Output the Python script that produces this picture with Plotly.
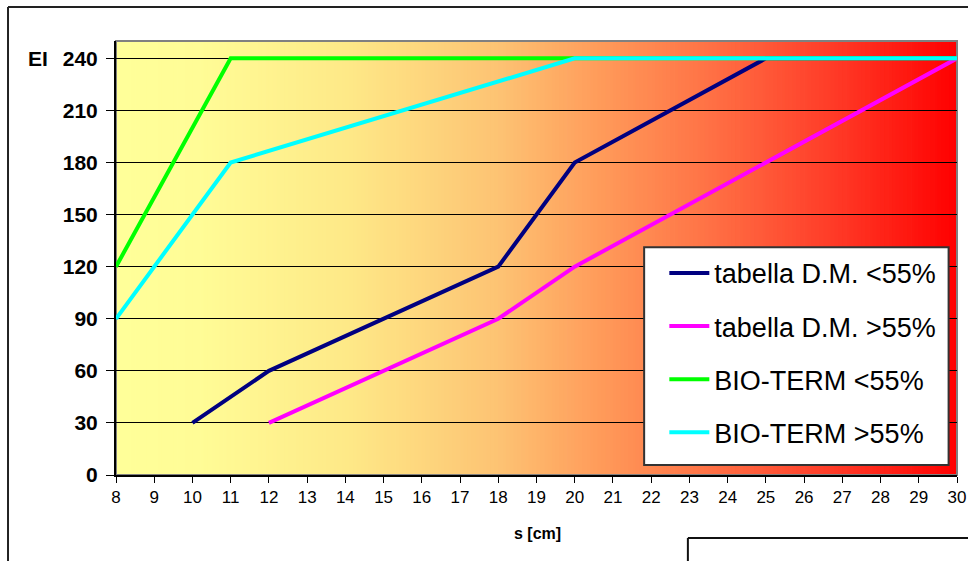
import numpy as np
import plotly.graph_objects as go

# Spessore s [cm] and EI values for each curve
dm_lt_x = [10, 12, 18, 20, 25, 30]
dm_lt_y = [30, 60, 120, 180, 240, 240]

dm_gt_x = [12, 18, 20, 30]
dm_gt_y = [30, 90, 120, 240]

bio_lt_x = [8, 11, 20, 30]
bio_lt_y = [120, 240, 240, 240]

bio_gt_x = [8, 11, 20, 30]
bio_gt_y = [90, 180, 240, 240]

y_ticks = [0, 30, 60, 90, 120, 150, 180, 210, 240]
x_ticks = list(range(8, 31))

series = [
    ("tabella D.M. <55%", dm_lt_x, dm_lt_y, "#000080"),
    ("tabella D.M. >55%", dm_gt_x, dm_gt_y, "#FF00FF"),
    ("BIO-TERM <55%", bio_lt_x, bio_lt_y, "#00FF00"),
    ("BIO-TERM >55%", bio_gt_x, bio_gt_y, "#00FFFF"),
]

fig = go.Figure()
for i, (name, xs, ys, col) in enumerate(series):
    fig.add_trace(go.Scatter(
        x=xs, y=ys, mode="lines", name=name,
        line=dict(color=col, width=4),
        legendgroup=f"g{i}",
    ))

# Horizontal background gradient, pale yellow to red
stops_t = [0.0, 0.10, 0.28, 0.455, 0.575, 0.70, 0.85, 1.0]
stops_c = np.array([
    [255, 255, 153],
    [255, 252, 150],
    [254, 232, 135],
    [253, 195, 115],
    [255, 155, 90],
    [255, 115, 70],
    [255, 60, 40],
    [255, 0, 0],
], dtype=float)

shapes = []
x_lo, x_hi = 8.0, 30.0
n_strips = 220
edges = np.linspace(x_lo, x_hi, n_strips + 1)
for a, b in zip(edges[:-1], edges[1:]):
    t = ((a + b) / 2 - x_lo) / (x_hi - x_lo)
    rgb = [np.interp(t, stops_t, stops_c[:, k]) for k in range(3)]
    col = "rgb({:.0f},{:.0f},{:.0f})".format(*rgb)
    shapes.append(dict(type="rect", xref="x", yref="paper",
                       x0=a, x1=b + 0.02, y0=0, y1=1,
                       fillcolor=col, line=dict(width=0), layer="below"))

# Plot area border (grey on top/right)
shapes.append(dict(type="rect", xref="paper", yref="paper", x0=0, x1=1, y0=0, y1=1,
                   line=dict(color="#808080", width=2), layer="below"))

# Legend box
shapes.append(dict(type="rect", xref="paper", yref="paper",
                   x0=0.628, x1=0.990, y0=0.023, y1=0.525,
                   fillcolor="white", line=dict(color="#333333", width=2), layer="above"))

# Outer chart frame and neighbouring box
shapes += [
    dict(type="line", xref="paper", yref="paper", x0=-0.1284, x1=1.02, y0=1.0783, y1=1.0783,
         line=dict(color="#222222", width=2)),
    dict(type="line", xref="paper", yref="paper", x0=-0.1284, x1=-0.1284, y0=1.0783, y1=-0.21,
         line=dict(color="#222222", width=2)),
    dict(type="line", xref="paper", yref="paper", x0=0.680, x1=1.02, y0=-0.1452, y1=-0.1452,
         line=dict(color="#111111", width=2)),
    dict(type="line", xref="paper", yref="paper", x0=0.680, x1=0.680, y0=-0.1452, y1=-0.21,
         line=dict(color="#111111", width=2)),
]

fig.update_layout(
    width=968, height=561,
    margin=dict(l=116, r=11, t=41, b=86, autoexpand=False),
    paper_bgcolor="white",
    plot_bgcolor="rgba(0,0,0,0)",
    font=dict(family="Arial, Liberation Sans, sans-serif", color="black"),
    shapes=shapes,
    showlegend=True,
    legend=dict(
        x=0.652, y=0.521, xanchor="left", yanchor="top",
        bgcolor="rgba(0,0,0,0)", borderwidth=0,
        font=dict(size=27, family="Arial, Liberation Sans, sans-serif", color="black"),
        traceorder="grouped", tracegroupgap=15,
        itemwidth=40,
    ),
    annotations=[
        dict(text="<b>EI</b>", xref="paper", yref="paper", x=(38 - 116) / 841, y=(475 - 58) / 434,
             xanchor="center", yanchor="middle", showarrow=False,
             font=dict(size=21, family="Arial, Liberation Sans, sans-serif")),
        dict(text="<b>s [cm]</b>", xref="paper", yref="paper", x=(537 - 116) / 841, y=(475 - 533) / 434,
             xanchor="center", yanchor="middle", showarrow=False,
             font=dict(size=16, family="Arial, Liberation Sans, sans-serif")),
    ],
)

fig.update_xaxes(
    range=[8, 30], tickvals=x_ticks, ticktext=[str(v) for v in x_ticks],
    ticks="outside", ticklen=6, tickcolor="black", tickwidth=1,
    showline=True, linecolor="black", linewidth=2,
    showgrid=False, zeroline=False, automargin=False,
    tickfont=dict(size=17),
)
fig.update_yaxes(
    range=[0, 250], tickvals=y_ticks, ticktext=[f"<b>{v}</b>" for v in y_ticks],
    ticks="outside", ticklen=8, tickcolor="black", tickwidth=1,
    showline=True, linecolor="black", linewidth=2,
    showgrid=True, gridcolor="black", gridwidth=1, zeroline=False, automargin=False,
    tickfont=dict(size=21), ticklabelstandoff=4,
)

fig.write_html("out.html")
